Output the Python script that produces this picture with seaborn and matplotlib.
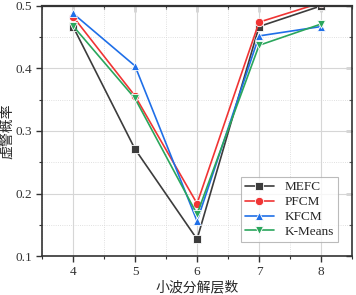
import pandas as pd
import numpy as np
import seaborn as sns
import matplotlib.pyplot as plt
from matplotlib.ticker import MultipleLocator, FormatStrFormatter

levels = [4, 5, 6, 7, 8]
mefc = [0.467, 0.271, 0.127, 0.467, 0.500]
pfcm = [0.483, 0.356, 0.184, 0.474, 0.505]
kfcm = [0.488, 0.404, 0.156, 0.452, 0.467]
kmeans = [0.468, 0.352, 0.167, 0.437, 0.471]

names = ["MEFC", "PFCM", "KFCM", "K-Means"]
colors = ["#3c3c3c", "#f03434", "#1f6fe8", "#2aa65c"]
markers = ["s", "o", "^", "v"]

df = pd.DataFrame({
    "level": levels * 4,
    "rate": mefc + pfcm + kfcm + kmeans,
    "method": sum([[n] * 5 for n in names], []),
})

sns.set_theme(style="white")
plt.rcParams['font.family'] = ['Liberation Serif', 'Noto Sans CJK SC']
plt.rcParams['axes.unicode_minus'] = False

fig = plt.figure(figsize=(3.56, 2.95), dpi=100)
ax = fig.add_axes([0.118, 0.132, 0.871, 0.848])

sns.lineplot(data=df, x="level", y="rate", hue="method", style="method",
             hue_order=names, style_order=names, palette=colors,
             markers=dict(zip(names, markers)), dashes=False,
             markersize=6, markeredgewidth=0.6, linewidth=1.2, ax=ax)

ax.set_xlim(3.5, 8.5)
ax.set_ylim(0.1, 0.5)
ax.xaxis.set_major_locator(MultipleLocator(1))
ax.xaxis.set_minor_locator(MultipleLocator(0.5))
ax.yaxis.set_major_locator(MultipleLocator(0.1))
ax.yaxis.set_minor_locator(MultipleLocator(0.05))
ax.yaxis.set_major_formatter(FormatStrFormatter('%.1f'))

ax.grid(which='major', color='#d6d6d6', linewidth=0.8)
ax.grid(which='minor', color='#d6d6d6', linewidth=0.6, linestyle=':')
ax.set_axisbelow(True)

ax.tick_params(which='both', direction='out', bottom=True, left=True,
               labelsize=9.5, colors='#333333', pad=3)
ax.tick_params(which='major', length=4, width=1)
ax.tick_params(which='minor', length=2, width=0.8)

for s in ax.spines.values():
    s.set_color('#333333')
    s.set_linewidth(1.2)
ax.spines['top'].set_linewidth(1.6)

# mirrored inward ticks on top and right
top = ax.secondary_xaxis('top')
top.xaxis.set_major_locator(MultipleLocator(1))
top.xaxis.set_minor_locator(MultipleLocator(0.5))
top.tick_params(which='both', direction='in', labeltop=False, colors='#333333')
top.tick_params(which='major', length=4, width=1)
top.tick_params(which='minor', length=2, width=0.8)
top.spines['top'].set_visible(False)
right = ax.secondary_yaxis('right')
right.yaxis.set_major_locator(MultipleLocator(0.1))
right.yaxis.set_minor_locator(MultipleLocator(0.05))
right.tick_params(which='both', direction='in', labelright=False, colors='#333333')
right.tick_params(which='major', length=4, width=1)
right.tick_params(which='minor', length=2, width=0.8)
right.spines['right'].set_visible(False)

ax.set_xlabel("小波分解层数", fontsize=10, family=['Noto Sans CJK SC'], labelpad=2)
ax.set_ylabel("虚警概率", fontsize=10, family=['Noto Sans CJK SC'], labelpad=1)

leg = ax.legend(loc='lower right', bbox_to_anchor=(0.975, 0.03), fontsize=9.5,
                frameon=True, fancybox=False, edgecolor='#aaaaaa',
                handlelength=2.2, borderpad=0.3, labelspacing=0.2)
leg.get_frame().set_linewidth(0.8)

plt.savefig("out.png", dpi=100)
